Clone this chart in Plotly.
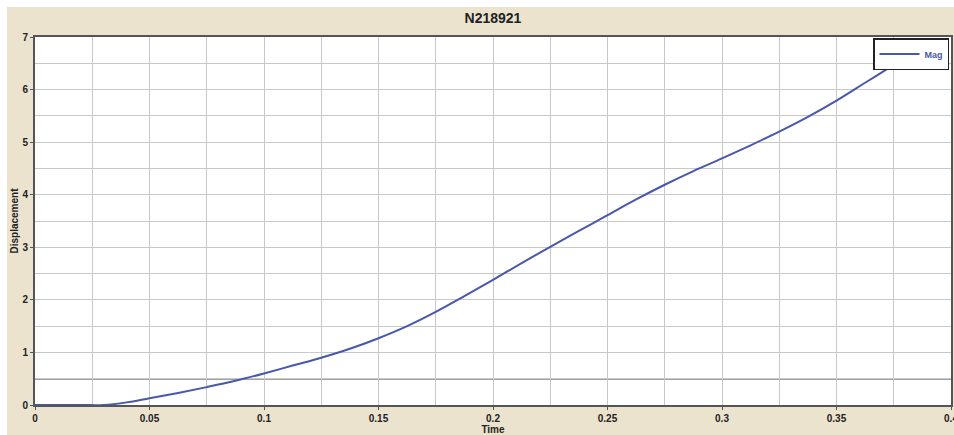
import plotly.graph_objects as go

title_text = "N218921"
series_name = "Mag"
time_s = [0, 0.02, 0.03, 0.04, 0.05, 0.0625, 0.075, 0.0875, 0.1, 0.1125, 0.125, 0.1375,
          0.15, 0.1625, 0.175, 0.1875, 0.2, 0.2125, 0.225, 0.2375, 0.25, 0.2625, 0.275,
          0.2875, 0.3, 0.3125, 0.325, 0.3375, 0.35, 0.3625, 0.375, 0.3875]
displacement = [0, 0, 0.0, 0.05, 0.13, 0.23, 0.34, 0.46, 0.60, 0.75, 0.90, 1.07,
                1.27, 1.50, 1.77, 2.07, 2.38, 2.70, 3.01, 3.31, 3.61, 3.91, 4.19,
                4.45, 4.69, 4.94, 5.20, 5.48, 5.79, 6.13, 6.47, 6.82]
x_ticks = [0, 0.05, 0.1, 0.15, 0.2, 0.25, 0.3, 0.35, 0.4]
x_ticklabels = ["0", "0.05", "0.1", "0.15", "0.2", "0.25", "0.3", "0.35", "0.4"]
y_ticks = [0, 1, 2, 3, 4, 5, 6, 7]
ref_level = 0.5

W, H = 954, 435
ML, MR, MT, MB = 35, 3, 37, 30
pw, ph = W - ML - MR, H - MT - MB

beige = "rgb(236,227,207)"
axis_col = "#555555"
grid_col = "#c8c8c8"
line_col = "rgb(72,88,170)"
font_fam = "Liberation Sans, Arial, sans-serif"

fig = go.Figure()
fig.add_trace(go.Scatter(x=time_s, y=displacement, mode="lines", name=series_name,
                         line=dict(color=line_col, width=2), line_shape="spline"))

# white strips outside the beige panel
fig.add_shape(type="rect", xref="paper", yref="paper",
              x0=-ML / pw, x1=(W - ML) / pw, y0=(H - MT) / ph, y1=(H - MT + 10) / ph,
              fillcolor="white", line_width=0, layer="below")
fig.add_shape(type="rect", xref="paper", yref="paper",
              x0=-ML / pw, x1=(7 - ML) / pw, y0=-MB / ph, y1=(H - MT + 10) / ph,
              fillcolor="white", line_width=0, layer="below")
# reference line
fig.add_shape(type="line", xref="paper", yref="y", x0=0, x1=1, y0=ref_level, y1=ref_level,
              line=dict(color="#444444", width=1.5), layer="below")

tick_font = dict(family=font_fam, size=10, color="#222222", weight="bold")
fig.update_layout(
    width=W, height=H,
    margin=dict(l=ML, r=MR, t=MT, b=MB, pad=0, autoexpand=False),
    paper_bgcolor=beige, plot_bgcolor="white",
    title=dict(text=title_text, x=(pw / 2 + ML) / W, xanchor="center",
               y=1 - 18 / H, yanchor="middle",
               font=dict(family=font_fam, size=14, color="#222222", weight="bold")),
    showlegend=True,
    legend=dict(x=1 - 2 / pw, xanchor="right", y=1 - 1 / ph, yanchor="top",
                bgcolor="white", bordercolor="#222222", borderwidth=1.5,
                font=dict(family=font_fam, size=9, color=line_col, weight="bold"),
                itemwidth=40, tracegroupgap=0),
    xaxis=dict(range=[0, 0.4], tickvals=x_ticks, ticktext=x_ticklabels,
               ticklabeloverflow="allow", automargin=False,
               showgrid=True, gridcolor=grid_col, gridwidth=1,
               minor=dict(dtick=0.025, showgrid=True, gridcolor=grid_col, gridwidth=1),
               showline=True, linecolor=axis_col, linewidth=2, mirror=True,
               ticks="outside", ticklen=3, tickcolor=axis_col,
               tickfont=tick_font, zeroline=False,
               title=dict(text="Time", standoff=0,
                          font=dict(family=font_fam, size=10, color="#222222", weight="bold"))),
    yaxis=dict(range=[0, 7], tickvals=y_ticks, automargin=False,
               showgrid=True, gridcolor=grid_col, gridwidth=1,
               minor=dict(dtick=0.5, showgrid=True, gridcolor=grid_col, gridwidth=1),
               showline=True, linecolor=axis_col, linewidth=2, mirror=True,
               ticks="outside", ticklen=3, tickcolor=axis_col,
               tickfont=tick_font, zeroline=False,
               title=dict(text="Displacement", standoff=2,
                          font=dict(family=font_fam, size=10, color="#222222", weight="bold"))),
)

fig.write_html("out.html")
